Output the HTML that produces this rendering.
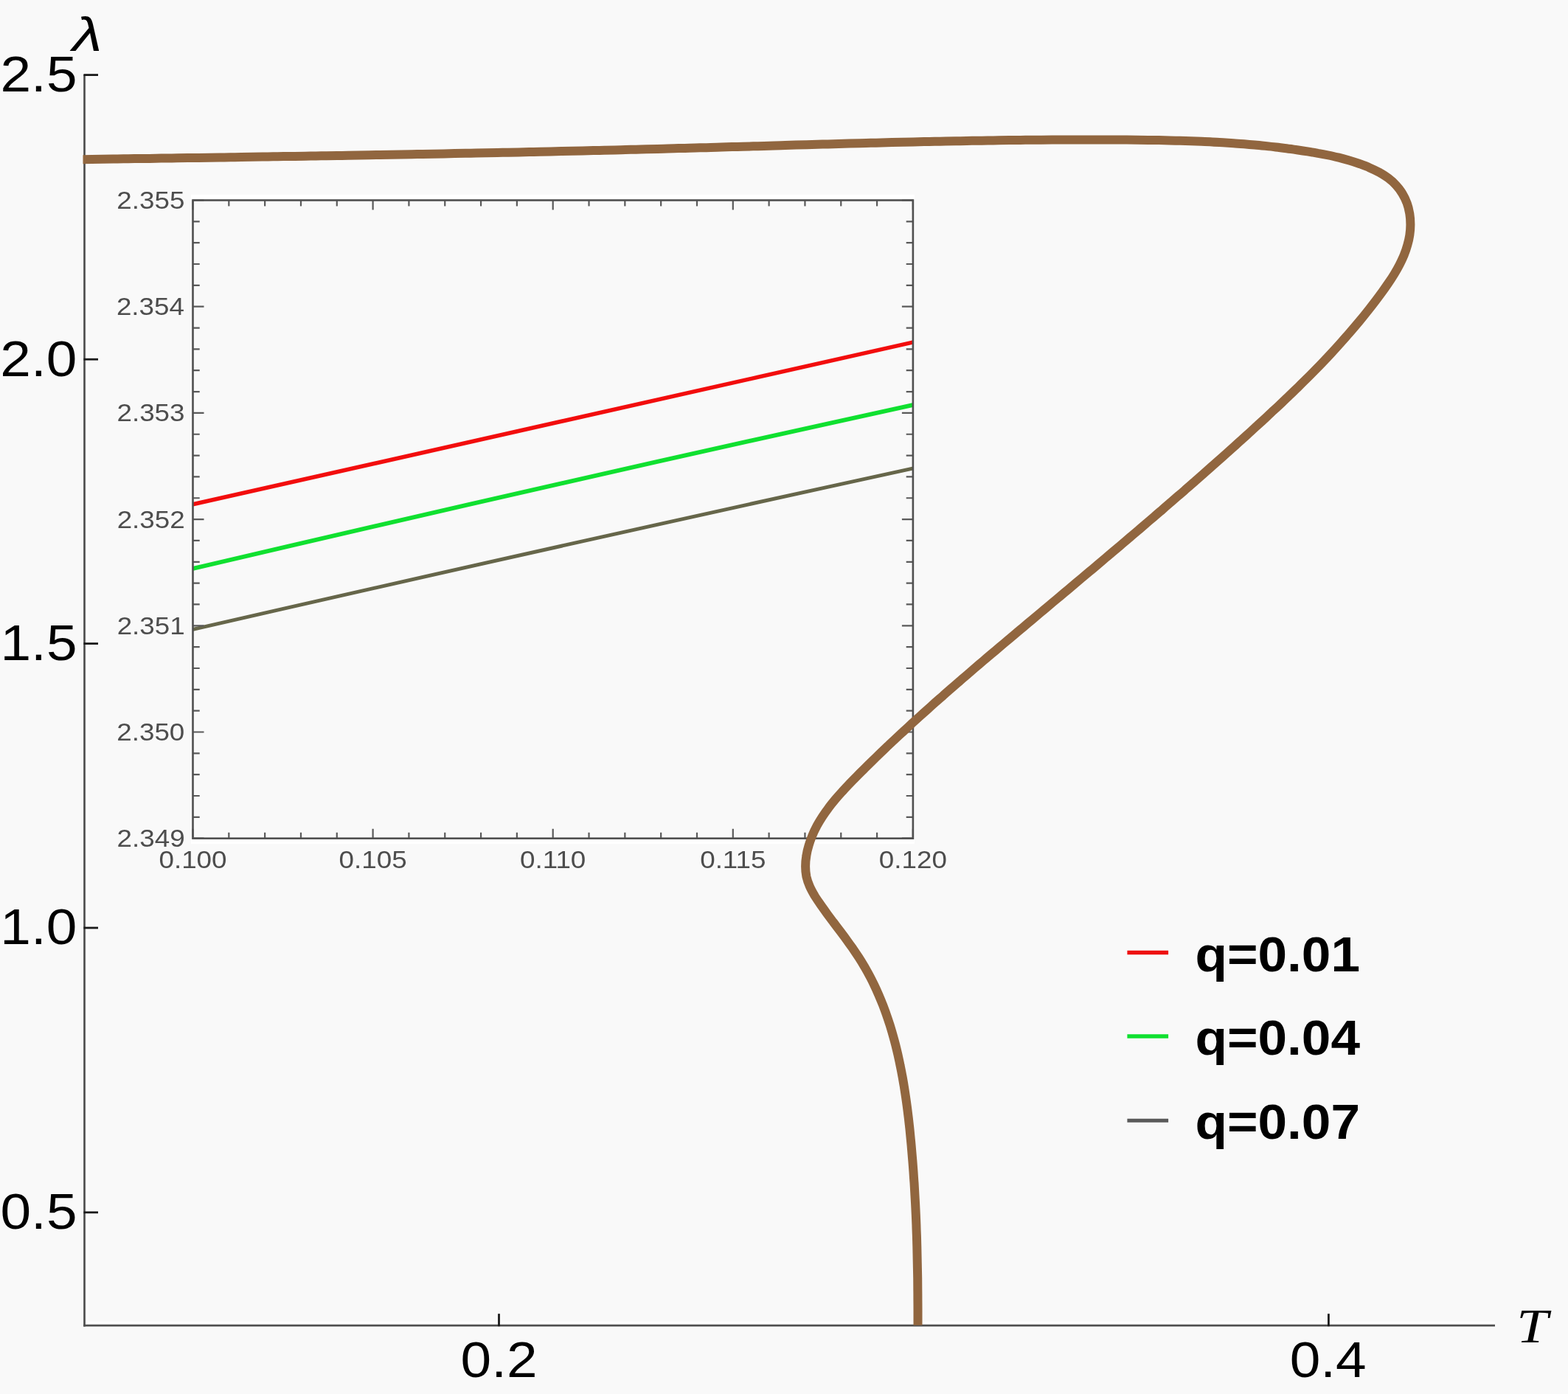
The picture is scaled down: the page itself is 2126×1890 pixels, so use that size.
<!DOCTYPE html>
<html lang="en">
<head>
<meta charset="utf-8">
<title>Lyapunov exponent versus temperature</title>
<style>
html,body{margin:0;padding:0;background:#f9f9f9;}
body{width:2126px;height:1890px;overflow:hidden;}
svg{display:block;}
</style>
</head>
<body>
<svg width="2126" height="1890" viewBox="0 0 2126 1890">
<rect x="0" y="0" width="2126" height="1890" fill="#f9f9f9"/>
<g id="inset">
<rect x="259.0" y="264.0" width="980.9" height="6.2" fill="#ffffff"/>
<rect x="259.0" y="1138.0" width="980.9" height="6.0" fill="#ffffff"/>
<clipPath id="insetclip"><rect x="261.5" y="271.5" width="976.4000000000001" height="865.2"/></clipPath>
<g clip-path="url(#insetclip)">
<path d="M258.50,684.48 Q749.70,573.10 1240.90,463.32" fill="none" stroke="#f20d0d" stroke-width="5.5"/>
<path d="M258.50,771.68 Q749.70,656.00 1240.90,548.32" fill="none" stroke="#10e030" stroke-width="5.8"/>
<path d="M258.50,854.07 Q749.70,741.40 1240.90,634.33" fill="none" stroke="#66664a" stroke-width="5.0"/>
</g>
<path d="M261.50,1136.70v-13.0 M261.50,271.50v13.0 M310.32,1136.70v-8.0 M310.32,271.50v8.0 M359.14,1136.70v-8.0 M359.14,271.50v8.0 M407.96,1136.70v-8.0 M407.96,271.50v8.0 M456.78,1136.70v-8.0 M456.78,271.50v8.0 M505.60,1136.70v-13.0 M505.60,271.50v13.0 M554.42,1136.70v-8.0 M554.42,271.50v8.0 M603.24,1136.70v-8.0 M603.24,271.50v8.0 M652.06,1136.70v-8.0 M652.06,271.50v8.0 M700.88,1136.70v-8.0 M700.88,271.50v8.0 M749.70,1136.70v-13.0 M749.70,271.50v13.0 M798.52,1136.70v-8.0 M798.52,271.50v8.0 M847.34,1136.70v-8.0 M847.34,271.50v8.0 M896.16,1136.70v-8.0 M896.16,271.50v8.0 M944.98,1136.70v-8.0 M944.98,271.50v8.0 M993.80,1136.70v-13.0 M993.80,271.50v13.0 M1042.62,1136.70v-8.0 M1042.62,271.50v8.0 M1091.44,1136.70v-8.0 M1091.44,271.50v8.0 M1140.26,1136.70v-8.0 M1140.26,271.50v8.0 M1189.08,1136.70v-8.0 M1189.08,271.50v8.0 M1237.90,1136.70v-13.0 M1237.90,271.50v13.0 M261.50,271.50h15.0 M1237.90,271.50h-15.0 M261.50,300.34h9.2 M1237.90,300.34h-9.2 M261.50,329.18h9.2 M1237.90,329.18h-9.2 M261.50,358.02h9.2 M1237.90,358.02h-9.2 M261.50,386.86h9.2 M1237.90,386.86h-9.2 M261.50,415.70h15.0 M1237.90,415.70h-15.0 M261.50,444.54h9.2 M1237.90,444.54h-9.2 M261.50,473.38h9.2 M1237.90,473.38h-9.2 M261.50,502.22h9.2 M1237.90,502.22h-9.2 M261.50,531.06h9.2 M1237.90,531.06h-9.2 M261.50,559.90h15.0 M1237.90,559.90h-15.0 M261.50,588.74h9.2 M1237.90,588.74h-9.2 M261.50,617.58h9.2 M1237.90,617.58h-9.2 M261.50,646.42h9.2 M1237.90,646.42h-9.2 M261.50,675.26h9.2 M1237.90,675.26h-9.2 M261.50,704.10h15.0 M1237.90,704.10h-15.0 M261.50,732.94h9.2 M1237.90,732.94h-9.2 M261.50,761.78h9.2 M1237.90,761.78h-9.2 M261.50,790.62h9.2 M1237.90,790.62h-9.2 M261.50,819.46h9.2 M1237.90,819.46h-9.2 M261.50,848.30h15.0 M1237.90,848.30h-15.0 M261.50,877.14h9.2 M1237.90,877.14h-9.2 M261.50,905.98h9.2 M1237.90,905.98h-9.2 M261.50,934.82h9.2 M1237.90,934.82h-9.2 M261.50,963.66h9.2 M1237.90,963.66h-9.2 M261.50,992.50h15.0 M1237.90,992.50h-15.0 M261.50,1021.34h9.2 M1237.90,1021.34h-9.2 M261.50,1050.18h9.2 M1237.90,1050.18h-9.2 M261.50,1079.02h9.2 M1237.90,1079.02h-9.2 M261.50,1107.86h9.2 M1237.90,1107.86h-9.2 M261.50,1136.70h15.0 M1237.90,1136.70h-15.0" stroke="#5a5a5a" stroke-width="2.2" fill="none"/>
<rect x="261.5" y="271.5" width="976.40" height="865.20" fill="none" stroke="#505050" stroke-width="2.6"/>
</g>
<g id="axes">
<rect x="115.8" y="101.0" width="3.6" height="1696.2" fill="#ffffff"/>
<rect x="114.5" y="1791.8" width="1912.5" height="7.6" fill="#ffffff"/>
<line x1="114.50" y1="101.00" x2="114.50" y2="1798.55" stroke="#4f4f4f" stroke-width="2.7" stroke-linecap="butt"/>
<line x1="113.15" y1="1797.20" x2="2027.00" y2="1797.20" stroke="#4f4f4f" stroke-width="2.7" stroke-linecap="butt"/>
<line x1="113.50" y1="101.60" x2="133.00" y2="101.60" stroke="#1a1a1a" stroke-width="2.8" stroke-linecap="butt"/>
<line x1="113.50" y1="487.20" x2="133.00" y2="487.20" stroke="#1a1a1a" stroke-width="2.8" stroke-linecap="butt"/>
<line x1="113.50" y1="872.60" x2="133.00" y2="872.60" stroke="#1a1a1a" stroke-width="2.8" stroke-linecap="butt"/>
<line x1="113.50" y1="1258.00" x2="133.00" y2="1258.00" stroke="#1a1a1a" stroke-width="2.8" stroke-linecap="butt"/>
<line x1="113.50" y1="1643.80" x2="133.00" y2="1643.80" stroke="#1a1a1a" stroke-width="2.8" stroke-linecap="butt"/>
<line x1="676.50" y1="1798.20" x2="676.50" y2="1781.20" stroke="#1a1a1a" stroke-width="2.8" stroke-linecap="butt"/>
<line x1="1801.40" y1="1798.20" x2="1801.40" y2="1781.20" stroke="#1a1a1a" stroke-width="2.8" stroke-linecap="butt"/>
</g>
<clipPath id="plotclip"><rect x="112.5" y="0" width="2126" height="1796.7"/></clipPath>
<g clip-path="url(#plotclip)"><path id="curve" d="M110.0,216.2 C112.4,216.1 119.7,216.0 124.5,216.0 C129.3,215.9 134.1,215.8 138.9,215.8 C143.8,215.7 148.6,215.6 153.4,215.5 C158.2,215.5 163.0,215.4 167.9,215.3 C172.7,215.3 177.5,215.2 182.3,215.1 C187.1,215.1 192.0,215.0 196.8,214.9 C201.6,214.9 206.4,214.8 211.3,214.7 C216.1,214.6 220.9,214.6 225.7,214.5 C230.5,214.4 235.4,214.4 240.2,214.3 C245.0,214.2 249.8,214.2 254.7,214.1 C259.5,214.0 264.3,213.9 269.1,213.9 C273.9,213.8 278.8,213.7 283.6,213.7 C288.4,213.6 293.2,213.5 298.1,213.4 C302.9,213.4 307.7,213.3 312.5,213.2 C317.3,213.2 322.2,213.1 327.0,213.0 C331.8,212.9 336.6,212.9 341.5,212.8 C346.3,212.7 351.1,212.6 355.9,212.6 C360.7,212.5 365.6,212.4 370.4,212.3 C375.2,212.3 380.0,212.2 384.9,212.1 C389.7,212.0 394.5,212.0 399.3,211.9 C404.2,211.8 409.0,211.7 413.8,211.7 C418.6,211.6 423.5,211.5 428.3,211.4 C433.1,211.3 437.9,211.3 442.7,211.2 C447.6,211.1 452.4,211.0 457.2,210.9 C462.0,210.9 466.9,210.8 471.7,210.7 C476.5,210.6 481.3,210.5 486.2,210.5 C491.0,210.4 495.8,210.3 500.6,210.2 C505.4,210.1 510.3,210.0 515.1,210.0 C519.9,209.9 524.7,209.8 529.6,209.7 C534.4,209.6 539.2,209.5 544.0,209.5 C548.9,209.4 553.7,209.3 558.5,209.2 C563.3,209.1 568.2,209.0 573.0,208.9 C577.8,208.8 582.6,208.7 587.4,208.7 C592.3,208.6 597.1,208.5 601.9,208.4 C606.7,208.3 611.6,208.2 616.4,208.1 C621.2,208.0 626.0,207.9 630.9,207.8 C635.7,207.7 640.5,207.6 645.3,207.5 C650.2,207.4 655.0,207.4 659.8,207.3 C664.6,207.2 669.4,207.1 674.3,207.0 C679.1,206.9 683.9,206.8 688.7,206.7 C693.6,206.6 698.4,206.5 703.2,206.4 C708.0,206.3 712.9,206.2 717.7,206.1 C722.5,205.9 727.3,205.8 732.1,205.7 C737.0,205.6 741.8,205.5 746.6,205.4 C751.4,205.3 756.3,205.2 761.1,205.1 C765.9,205.0 770.7,204.9 775.5,204.8 C780.4,204.7 785.2,204.5 790.0,204.4 C794.8,204.3 799.7,204.2 804.5,204.1 C809.3,204.0 814.1,203.9 818.9,203.7 C823.8,203.6 828.6,203.5 833.4,203.4 C838.2,203.3 843.1,203.2 847.9,203.0 C852.7,202.9 857.5,202.8 862.3,202.7 C867.2,202.5 872.0,202.4 876.8,202.3 C881.6,202.2 886.4,202.0 891.3,201.9 C896.1,201.8 900.9,201.7 905.7,201.5 C910.5,201.4 915.4,201.3 920.2,201.1 C925.0,201.0 929.8,200.9 934.6,200.7 C939.5,200.6 944.3,200.5 949.1,200.3 C953.9,200.2 958.8,200.1 963.6,199.9 C968.4,199.8 973.2,199.7 978.0,199.5 C982.8,199.4 987.7,199.2 992.5,199.1 C997.3,199.0 1002.1,198.8 1006.9,198.7 C1011.8,198.6 1016.6,198.4 1021.4,198.3 C1026.2,198.1 1031.0,198.0 1035.9,197.9 C1040.7,197.7 1045.5,197.6 1050.3,197.4 C1055.1,197.3 1060.0,197.2 1064.8,197.0 C1069.6,196.9 1074.4,196.7 1079.2,196.6 C1084.1,196.5 1088.9,196.3 1093.7,196.2 C1098.5,196.1 1103.3,195.9 1108.2,195.8 C1113.0,195.7 1117.8,195.5 1122.6,195.4 C1127.4,195.3 1132.3,195.1 1137.1,195.0 C1141.9,194.9 1146.7,194.7 1151.5,194.6 C1156.4,194.5 1161.2,194.3 1166.0,194.2 C1170.8,194.1 1175.6,194.0 1180.5,193.8 C1185.3,193.7 1190.1,193.6 1194.9,193.5 C1199.7,193.4 1204.6,193.2 1209.4,193.1 C1214.2,193.0 1219.0,192.9 1223.8,192.8 C1228.7,192.7 1233.5,192.5 1238.3,192.4 C1243.1,192.3 1247.9,192.2 1252.8,192.1 C1257.6,192.0 1262.4,191.9 1267.2,191.8 C1272.0,191.7 1276.9,191.6 1281.7,191.5 C1286.5,191.4 1291.3,191.3 1296.2,191.2 C1301.0,191.2 1305.8,191.1 1310.6,191.0 C1315.4,190.9 1320.3,190.8 1325.1,190.7 C1329.9,190.7 1334.7,190.6 1339.6,190.5 C1344.4,190.4 1349.2,190.4 1354.0,190.3 C1358.9,190.2 1363.7,190.2 1368.5,190.1 C1373.3,190.1 1378.1,190.0 1383.0,189.9 C1387.8,189.9 1392.6,189.8 1397.4,189.8 C1402.3,189.8 1407.1,189.7 1411.9,189.7 C1416.7,189.6 1421.6,189.6 1426.4,189.6 C1431.2,189.5 1436.1,189.5 1440.9,189.5 C1445.7,189.5 1450.5,189.5 1455.4,189.4 C1460.2,189.4 1465.0,189.4 1469.8,189.4 C1474.7,189.4 1479.5,189.4 1484.3,189.4 C1489.2,189.4 1494.0,189.4 1498.8,189.5 C1503.6,189.5 1508.5,189.5 1513.3,189.5 C1518.1,189.5 1523.0,189.6 1527.8,189.6 C1532.6,189.6 1537.4,189.7 1542.3,189.7 C1547.1,189.8 1551.9,189.8 1556.8,189.9 C1561.6,189.9 1566.4,190.0 1571.3,190.1 C1576.1,190.2 1580.9,190.3 1585.7,190.4 C1590.6,190.5 1595.4,190.6 1600.2,190.8 C1605.0,190.9 1609.9,191.1 1614.7,191.2 C1619.5,191.4 1624.3,191.6 1629.1,191.8 C1634.0,192.0 1638.8,192.2 1643.6,192.5 C1648.4,192.7 1653.2,193.0 1658.0,193.3 C1662.8,193.6 1667.6,193.9 1672.4,194.2 C1677.2,194.5 1682.0,194.9 1686.8,195.3 C1691.6,195.7 1696.4,196.1 1701.2,196.5 C1706.0,196.9 1710.8,197.4 1715.6,197.9 C1720.4,198.4 1725.1,198.9 1729.9,199.5 C1734.7,200.0 1739.5,200.6 1744.2,201.2 C1749.0,201.8 1753.8,202.5 1758.5,203.2 C1763.3,203.9 1768.0,204.6 1772.8,205.4 C1777.5,206.1 1782.3,206.9 1787.0,207.8 C1791.8,208.6 1796.5,209.5 1801.2,210.5 C1805.9,211.5 1810.6,212.6 1815.3,213.7 C1820.0,214.9 1824.7,216.2 1829.3,217.5 C1834.0,218.9 1838.6,220.4 1843.2,222.0 C1847.8,223.7 1852.5,225.4 1857.0,227.4 C1861.5,229.3 1866.0,231.4 1870.2,233.8 C1874.4,236.2 1878.6,238.7 1882.4,241.6 C1886.2,244.5 1889.8,247.7 1893.0,251.2 C1896.2,254.6 1899.1,258.5 1901.5,262.6 C1904.0,266.7 1906.1,271.1 1907.7,275.6 C1909.4,280.1 1910.5,285.0 1911.3,289.8 C1912.1,294.6 1912.4,299.6 1912.4,304.5 C1912.4,309.3 1912.0,314.1 1911.3,318.8 C1910.6,323.5 1909.5,328.1 1908.2,332.6 C1907.0,337.2 1905.4,341.6 1903.6,346.0 C1901.8,350.4 1899.7,354.7 1897.6,358.9 C1895.4,363.2 1893.0,367.4 1890.5,371.5 C1888.0,375.7 1885.3,379.8 1882.5,383.8 C1879.8,387.8 1877.0,391.8 1874.1,395.8 C1871.2,399.8 1868.3,403.7 1865.3,407.6 C1862.4,411.4 1859.4,415.3 1856.4,419.1 C1853.4,422.9 1850.4,426.7 1847.3,430.5 C1844.2,434.2 1841.1,438.0 1838.0,441.7 C1834.9,445.4 1831.8,449.0 1828.6,452.7 C1825.4,456.3 1822.2,460.0 1819.0,463.5 C1815.8,467.1 1812.6,470.7 1809.3,474.3 C1806.0,477.8 1802.8,481.3 1799.5,484.8 C1796.2,488.3 1792.8,491.8 1789.5,495.3 C1786.2,498.7 1782.8,502.1 1779.4,505.6 C1776.1,509.0 1772.7,512.4 1769.2,515.8 C1765.8,519.2 1762.4,522.5 1759.0,525.9 C1755.5,529.2 1752.1,532.6 1748.6,535.9 C1745.1,539.2 1741.7,542.5 1738.2,545.9 C1734.7,549.2 1731.2,552.4 1727.7,555.7 C1724.1,559.0 1720.6,562.3 1717.1,565.6 C1713.6,568.8 1710.0,572.1 1706.5,575.3 C1702.9,578.6 1699.4,581.8 1695.8,585.1 C1692.2,588.3 1688.7,591.6 1685.1,594.8 C1681.5,598.0 1677.9,601.3 1674.4,604.5 C1670.8,607.7 1667.2,610.9 1663.6,614.2 C1660.0,617.4 1656.4,620.6 1652.8,623.8 C1649.2,627.0 1645.6,630.2 1641.9,633.4 C1638.3,636.6 1634.7,639.8 1631.1,643.0 C1627.4,646.2 1623.8,649.4 1620.2,652.6 C1616.5,655.7 1612.9,658.9 1609.3,662.1 C1605.6,665.3 1602.0,668.5 1598.3,671.6 C1594.7,674.8 1591.0,678.0 1587.3,681.1 C1583.7,684.3 1580.0,687.5 1576.4,690.6 C1572.7,693.8 1569.0,696.9 1565.4,700.1 C1561.7,703.2 1558.0,706.4 1554.3,709.5 C1550.7,712.7 1547.0,715.8 1543.3,719.0 C1539.6,722.1 1535.9,725.2 1532.2,728.4 C1528.6,731.5 1524.9,734.6 1521.2,737.8 C1517.5,740.9 1513.8,744.0 1510.1,747.1 C1506.4,750.3 1502.7,753.4 1499.0,756.5 C1495.4,759.6 1491.7,762.7 1488.0,765.9 C1484.3,769.0 1480.6,772.1 1476.9,775.2 C1473.2,778.3 1469.5,781.4 1465.8,784.5 C1462.1,787.6 1458.4,790.7 1454.7,793.8 C1451.0,797.0 1447.3,800.1 1443.6,803.2 C1439.9,806.3 1436.2,809.4 1432.5,812.5 C1428.8,815.5 1425.1,818.6 1421.5,821.7 C1417.8,824.8 1414.1,827.9 1410.4,831.0 C1406.7,834.1 1403.0,837.2 1399.3,840.3 C1395.6,843.4 1392.0,846.5 1388.3,849.6 C1384.6,852.6 1380.9,855.7 1377.2,858.8 C1373.6,861.9 1369.9,865.0 1366.2,868.1 C1362.5,871.2 1358.9,874.3 1355.2,877.4 C1351.5,880.5 1347.9,883.6 1344.2,886.7 C1340.6,889.8 1336.9,892.9 1333.2,896.0 C1329.6,899.1 1325.9,902.2 1322.3,905.3 C1318.6,908.5 1315.0,911.6 1311.4,914.7 C1307.7,917.8 1304.1,921.0 1300.5,924.1 C1296.8,927.3 1293.2,930.4 1289.6,933.6 C1286.0,936.7 1282.4,939.9 1278.8,943.1 C1275.1,946.2 1271.5,949.4 1267.9,952.6 C1264.3,955.8 1260.8,959.0 1257.2,962.2 C1253.6,965.4 1250.0,968.7 1246.4,971.9 C1242.9,975.1 1239.3,978.4 1235.7,981.6 C1232.2,984.9 1228.6,988.2 1225.1,991.5 C1221.5,994.8 1218.0,998.1 1214.4,1001.4 C1210.9,1004.7 1207.4,1008.0 1203.8,1011.3 C1200.3,1014.7 1196.8,1018.0 1193.3,1021.4 C1189.8,1024.8 1186.3,1028.2 1182.8,1031.6 C1179.3,1035.0 1175.8,1038.4 1172.4,1041.9 C1168.9,1045.3 1165.4,1048.8 1162.0,1052.2 C1158.5,1055.7 1155.1,1059.2 1151.7,1062.7 C1148.3,1066.3 1144.9,1069.8 1141.7,1073.5 C1138.4,1077.1 1135.2,1080.7 1132.1,1084.4 C1129.0,1088.1 1125.9,1091.9 1123.1,1095.8 C1120.2,1099.6 1117.5,1103.5 1114.9,1107.5 C1112.3,1111.5 1109.9,1115.5 1107.6,1119.7 C1105.4,1123.9 1103.3,1128.1 1101.5,1132.5 C1099.7,1136.9 1098.0,1141.3 1096.7,1145.9 C1095.3,1150.5 1094.1,1155.2 1093.4,1160.0 C1092.6,1164.7 1092.1,1169.6 1092.1,1174.4 C1092.1,1179.1 1092.5,1183.9 1093.4,1188.5 C1094.4,1193.0 1096.0,1197.5 1097.9,1201.8 C1099.8,1206.1 1102.2,1210.3 1104.6,1214.5 C1107.1,1218.6 1110.0,1222.7 1112.7,1226.7 C1115.5,1230.7 1118.4,1234.7 1121.3,1238.7 C1124.2,1242.6 1127.1,1246.6 1130.1,1250.5 C1133.0,1254.4 1136.0,1258.3 1138.9,1262.2 C1141.8,1266.1 1144.8,1270.0 1147.7,1274.0 C1150.5,1277.9 1153.4,1281.9 1156.2,1285.8 C1158.9,1289.8 1161.6,1293.8 1164.3,1297.9 C1166.9,1301.9 1169.4,1306.0 1171.8,1310.1 C1174.2,1314.3 1176.6,1318.4 1178.8,1322.7 C1181.1,1326.9 1183.2,1331.2 1185.3,1335.5 C1187.4,1339.8 1189.3,1344.1 1191.2,1348.5 C1193.1,1352.9 1194.9,1357.3 1196.7,1361.7 C1198.4,1366.2 1200.1,1370.7 1201.7,1375.2 C1203.3,1379.7 1204.8,1384.2 1206.3,1388.8 C1207.7,1393.4 1209.1,1398.0 1210.4,1402.6 C1211.7,1407.2 1213.0,1411.8 1214.2,1416.5 C1215.4,1421.2 1216.5,1425.9 1217.6,1430.6 C1218.6,1435.3 1219.7,1440.0 1220.6,1444.8 C1221.6,1449.5 1222.5,1454.3 1223.4,1459.0 C1224.3,1463.8 1225.1,1468.6 1225.9,1473.4 C1226.7,1478.2 1227.4,1483.0 1228.1,1487.8 C1228.8,1492.6 1229.5,1497.4 1230.1,1502.2 C1230.7,1507.1 1231.3,1511.9 1231.9,1516.7 C1232.4,1521.6 1233.0,1526.4 1233.5,1531.2 C1234.0,1536.1 1234.4,1540.9 1234.9,1545.7 C1235.4,1550.5 1235.8,1555.4 1236.2,1560.2 C1236.6,1565.0 1237.0,1569.8 1237.4,1574.6 C1237.8,1579.4 1238.1,1584.2 1238.5,1589.0 C1238.8,1593.8 1239.1,1598.6 1239.5,1603.4 C1239.8,1608.2 1240.0,1613.0 1240.3,1617.8 C1240.6,1622.6 1240.8,1627.4 1241.1,1632.2 C1241.3,1637.0 1241.6,1641.8 1241.8,1646.6 C1242.0,1651.4 1242.2,1656.1 1242.4,1660.9 C1242.5,1665.7 1242.7,1670.5 1242.9,1675.3 C1243.0,1680.1 1243.2,1684.9 1243.3,1689.7 C1243.4,1694.5 1243.5,1699.3 1243.6,1704.1 C1243.7,1708.9 1243.8,1713.7 1243.9,1718.5 C1244.0,1723.3 1244.1,1728.1 1244.2,1732.9 C1244.2,1737.7 1244.3,1742.6 1244.3,1747.4 C1244.4,1752.2 1244.4,1757.0 1244.4,1761.9 C1244.5,1766.7 1244.5,1771.6 1244.5,1776.4 C1244.5,1781.3 1244.5,1786.1 1244.5,1791.0 C1244.5,1795.8 1244.5,1800.7 1244.5,1805.6 C1244.5,1810.5 1244.5,1817.8 1244.5,1820.2" fill="none" stroke="#91663f" stroke-width="12.0" stroke-linejoin="round" stroke-linecap="butt"/></g>
<g id="legend">
<line x1="1528.40" y1="1291.50" x2="1584.10" y2="1291.50" stroke="#ee1111" stroke-width="5.5" stroke-linecap="butt"/>
<line x1="1528.40" y1="1405.00" x2="1584.10" y2="1405.00" stroke="#10e030" stroke-width="5.5" stroke-linecap="butt"/>
<line x1="1528.40" y1="1519.30" x2="1584.10" y2="1519.30" stroke="#5a5a5a" stroke-width="5.0" stroke-linecap="butt"/>
</g>
<g id="labels">
<text transform="matrix(0.3680 0 0 0.3350 158.37 283.02)" font-size="100" style="font-family:'Liberation Sans',sans-serif;font-weight:normal;font-style:normal" fill="#4d4d4d">2.355</text>
<text transform="matrix(0.3680 0 0 0.3350 157.91 427.22)" font-size="100" style="font-family:'Liberation Sans',sans-serif;font-weight:normal;font-style:normal" fill="#4d4d4d">2.354</text>
<text transform="matrix(0.3680 0 0 0.3350 158.46 571.42)" font-size="100" style="font-family:'Liberation Sans',sans-serif;font-weight:normal;font-style:normal" fill="#4d4d4d">2.353</text>
<text transform="matrix(0.3680 0 0 0.3350 158.65 715.62)" font-size="100" style="font-family:'Liberation Sans',sans-serif;font-weight:normal;font-style:normal" fill="#4d4d4d">2.352</text>
<text transform="matrix(0.3680 0 0 0.3350 158.65 859.82)" font-size="100" style="font-family:'Liberation Sans',sans-serif;font-weight:normal;font-style:normal" fill="#4d4d4d">2.351</text>
<text transform="matrix(0.3680 0 0 0.3350 158.28 1004.02)" font-size="100" style="font-family:'Liberation Sans',sans-serif;font-weight:normal;font-style:normal" fill="#4d4d4d">2.350</text>
<text transform="matrix(0.3680 0 0 0.3350 158.56 1148.22)" font-size="100" style="font-family:'Liberation Sans',sans-serif;font-weight:normal;font-style:normal" fill="#4d4d4d">2.349</text>
<text transform="matrix(0.3680 0 0 0.3350 215.45 1176.97)" font-size="100" style="font-family:'Liberation Sans',sans-serif;font-weight:normal;font-style:normal" fill="#4d4d4d">0.100</text>
<text transform="matrix(0.3680 0 0 0.3350 459.60 1176.97)" font-size="100" style="font-family:'Liberation Sans',sans-serif;font-weight:normal;font-style:normal" fill="#4d4d4d">0.105</text>
<text transform="matrix(0.3680 0 0 0.3350 704.99 1176.97)" font-size="100" style="font-family:'Liberation Sans',sans-serif;font-weight:normal;font-style:normal" fill="#4d4d4d">0.110</text>
<text transform="matrix(0.3680 0 0 0.3350 949.18 1176.97)" font-size="100" style="font-family:'Liberation Sans',sans-serif;font-weight:normal;font-style:normal" fill="#4d4d4d">0.115</text>
<text transform="matrix(0.3680 0 0 0.3350 1191.85 1176.97)" font-size="100" style="font-family:'Liberation Sans',sans-serif;font-weight:normal;font-style:normal" fill="#4d4d4d">0.120</text>
<text transform="matrix(0.7480 0 0 0.6760 0.51 124.04)" font-size="100" style="font-family:'Liberation Sans',sans-serif;font-weight:normal;font-style:normal" fill="#000000">2.5</text>
<text transform="matrix(0.7480 0 0 0.6760 0.32 509.64)" font-size="100" style="font-family:'Liberation Sans',sans-serif;font-weight:normal;font-style:normal" fill="#000000">2.0</text>
<text transform="matrix(0.7480 0 0 0.6760 0.51 895.04)" font-size="100" style="font-family:'Liberation Sans',sans-serif;font-weight:normal;font-style:normal" fill="#000000">1.5</text>
<text transform="matrix(0.7480 0 0 0.6760 0.32 1280.44)" font-size="100" style="font-family:'Liberation Sans',sans-serif;font-weight:normal;font-style:normal" fill="#000000">1.0</text>
<text transform="matrix(0.7480 0 0 0.6760 0.51 1666.24)" font-size="100" style="font-family:'Liberation Sans',sans-serif;font-weight:normal;font-style:normal" fill="#000000">0.5</text>
<text transform="matrix(0.7480 0 0 0.6760 624.59 1866.55)" font-size="100" style="font-family:'Liberation Sans',sans-serif;font-weight:normal;font-style:normal" fill="#000000">0.2</text>
<text transform="matrix(0.7480 0 0 0.6760 1748.74 1866.55)" font-size="100" style="font-family:'Liberation Sans',sans-serif;font-weight:normal;font-style:normal" fill="#000000">0.4</text>
<text transform="matrix(0.8187 0 0 0.6524 98.18 68.80)" font-size="100" style="font-family:'Liberation Sans',sans-serif;font-weight:normal;font-style:italic" fill="#000000">λ</text>
<text transform="matrix(0.7673 0 0 0.6611 2056.31 1819.70)" font-size="100" style="font-family:'Liberation Serif',serif;font-weight:normal;font-style:italic" fill="#000000">T</text>
<text transform="matrix(0.7120 0 0 0.6760 1620.45 1316.55)" font-size="100" style="font-family:'Liberation Sans',sans-serif;font-weight:bold;font-style:normal" fill="#000000">q=0.01</text>
<text transform="matrix(0.7120 0 0 0.6760 1620.45 1430.05)" font-size="100" style="font-family:'Liberation Sans',sans-serif;font-weight:bold;font-style:normal" fill="#000000">q=0.04</text>
<text transform="matrix(0.7120 0 0 0.6760 1620.45 1544.45)" font-size="100" style="font-family:'Liberation Sans',sans-serif;font-weight:bold;font-style:normal" fill="#000000">q=0.07</text>
</g>
</svg>
</body>
</html>
